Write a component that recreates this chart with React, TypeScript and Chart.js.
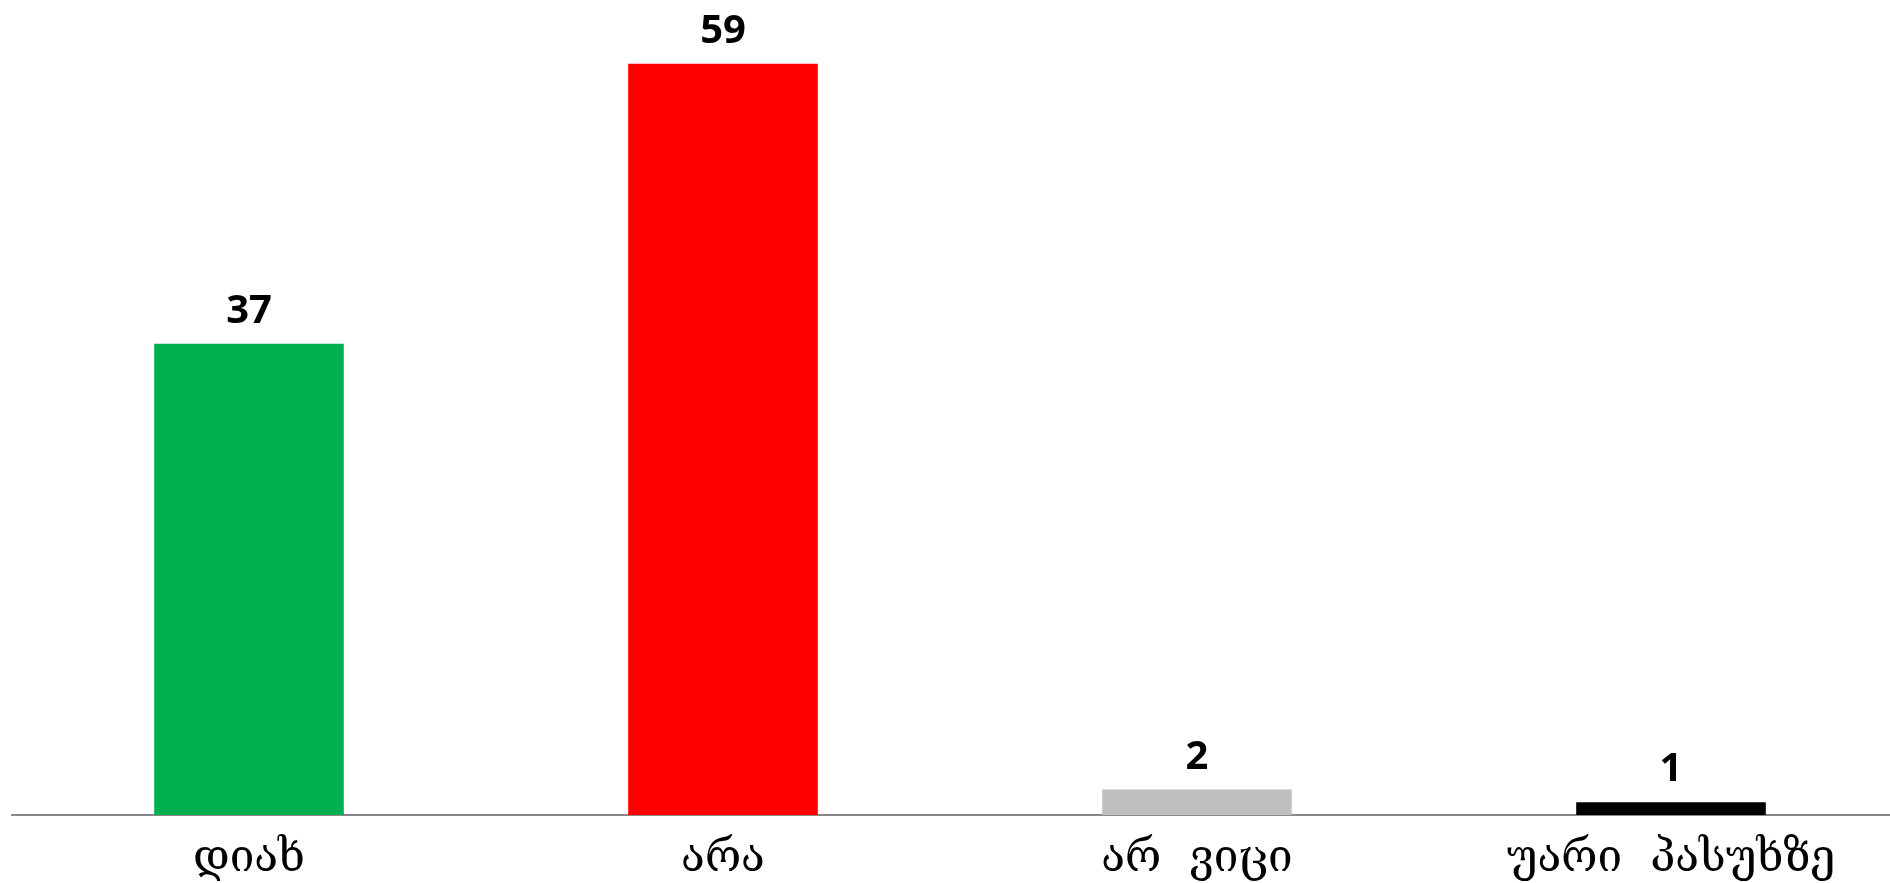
import React, { useEffect, useRef } from "react";
import { Chart, registerables } from "chart.js";

Chart.register(...registerables);

const categories: string[] = ["დიახ", "არა", "არ  ვიცი", "უარი  პასუხზე"];
const values: number[] = [37, 59, 2, 1];
const colors: string[] = ["#00B050", "#FF0000", "#BFBFBF", "#000000"];
const yMax = 64;

const valueLabels = {
  id: "valueLabels",
  afterDatasetsDraw(chart: any) {
    const ctx = chart.ctx;
    const meta = chart.getDatasetMeta(0);
    ctx.save();
    ctx.font = "bold 40px 'Open Sans'";
    ctx.fillStyle = "#000000";
    ctx.textAlign = "center";
    ctx.textBaseline = "alphabetic";
    meta.data.forEach((bar: any, i: number) => {
      ctx.fillText(String(values[i]), bar.x, bar.y - 21);
    });
    ctx.restore();
  },
};

export default function App() {
  const ref = useRef<HTMLCanvasElement | null>(null);
  useEffect(() => {
    if (!ref.current) return;
    const chart = new Chart(ref.current, {
      type: "bar",
      data: {
        labels: categories,
        datasets: [
          {
            data: values,
            backgroundColor: colors,
            borderWidth: 0,
            categoryPercentage: 1,
            barPercentage: 0.4,
          },
        ],
      },
      options: {
        animation: false,
        responsive: false,
        maintainAspectRatio: false,
        layout: { padding: { left: 12, right: 2, top: 0, bottom: 0 } },
        plugins: {
          legend: { display: false },
          tooltip: { enabled: false },
          title: { display: false },
        },
        scales: {
          x: {
            grid: { display: false, drawTicks: false },
            border: { display: true, color: "#898989", width: 2 },
            ticks: {
              color: "#000000",
              font: { family: "'DejaVu Serif'", size: 44 },
              padding: 18,
              maxRotation: 0,
              autoSkip: false,
            },
            afterFit: (scale: any) => {
              scale.height = 68;
            },
          },
          y: {
            display: false,
            min: 0,
            max: yMax,
          },
        },
      },
      plugins: [valueLabels],
    });
    return () => chart.destroy();
  }, []);
  return (
    <div
      style={{
        position: "fixed",
        left: 0,
        top: 0,
        width: 1890,
        height: 883,
        overflow: "hidden",
        background: "#ffffff",
      }}
    >
      <canvas ref={ref} width={1910} height={883} style={{ width: 1910, height: 883, display: "block" }} />
    </div>
  );
}
